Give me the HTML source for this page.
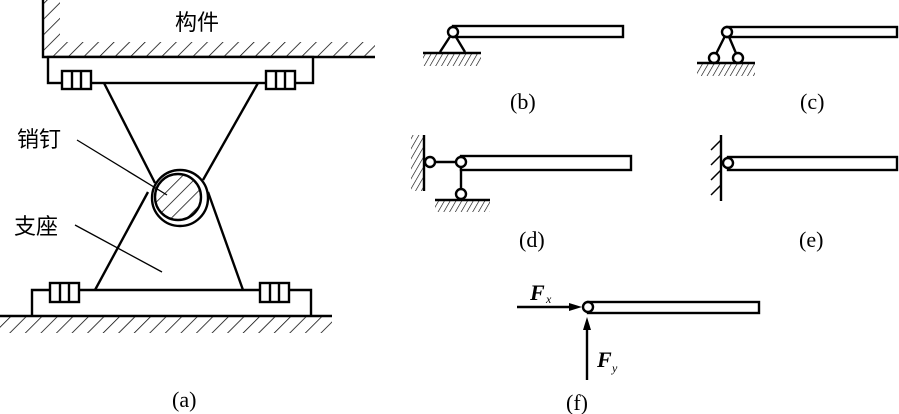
<!DOCTYPE html>
<html><head><meta charset="utf-8"><style>
html,body{margin:0;padding:0;background:#fff;}
svg{display:block;}
text{font-family:"Liberation Serif",serif;font-size:22px;fill:#000;}
.cn{font-family:"Liberation Sans","Noto Sans CJK SC",sans-serif;font-size:22px;}
.sub{font-size:12px;font-style:italic;}
</style></head><body>
<svg width="899" height="414" viewBox="0 0 899 414" xmlns="http://www.w3.org/2000/svg">
<defs>
<pattern id="h" width="11" height="11" patternUnits="userSpaceOnUse" patternTransform="rotate(45)">
<line x1="0" y1="0" x2="0" y2="11" stroke="#000" stroke-width="1.5"/></pattern>
<pattern id="hs" width="5" height="5" patternUnits="userSpaceOnUse" patternTransform="rotate(30)">
<line x1="0" y1="0" x2="0" y2="5" stroke="#000" stroke-width="1.2"/></pattern>
<clipPath id="cc"><circle cx="178" cy="198" r="23"/></clipPath>
</defs>
<g stroke="#000" fill="none" stroke-width="2.4">
<path d="M43,0 V57 H375"/>
<polygon points="43,0 60,0 60,42 375,42 375,57 43,57" fill="url(#h)" stroke="none"/>
<rect x="48" y="57" width="265" height="26" fill="#fff"/>
<rect x="62" y="71" width="29" height="18" fill="#fff"/>
<line x1="72" y1="71" x2="72" y2="89"/><line x1="81" y1="71" x2="81" y2="89"/>
<rect x="266" y="71" width="29" height="18" fill="#fff"/>
<line x1="276" y1="71" x2="276" y2="89"/><line x1="285" y1="71" x2="285" y2="89"/>
<line x1="104" y1="83" x2="155" y2="183"/>
<line x1="258" y1="83" x2="203" y2="180"/>
<line x1="148" y1="192" x2="95" y2="290"/>
<line x1="208" y1="192" x2="243" y2="290"/>
<circle cx="180" cy="198" r="28" fill="#fff"/>
<circle cx="178" cy="197" r="23" fill="#fff"/>
<rect x="150" y="170" width="60" height="60" fill="url(#h)" stroke="none" clip-path="url(#cc)"/>
<line x1="77" y1="140" x2="167" y2="195" stroke-width="1.3"/>
<line x1="75" y1="225" x2="162" y2="272" stroke-width="1.3"/>
<path d="M32,315 V290 H311 V315"/>
<rect x="50" y="283" width="29" height="19" fill="#fff"/>
<line x1="60" y1="283" x2="60" y2="302"/><line x1="69" y1="283" x2="69" y2="302"/>
<rect x="260" y="283" width="29" height="19" fill="#fff"/>
<line x1="270" y1="283" x2="270" y2="302"/><line x1="279" y1="283" x2="279" y2="302"/>
<line x1="0" y1="316" x2="332" y2="316"/>
<rect x="0" y="317" width="332" height="16" fill="url(#h)" stroke="none"/>

<rect x="453" y="26" width="170" height="11" fill="#fff"/>
<path d="M440,52 L453,32 L465,52"/>
<circle cx="453" cy="32" r="5" fill="#fff"/>
<line x1="423" y1="53" x2="481" y2="53"/>
<rect x="423" y="54" width="58" height="12" fill="url(#hs)" stroke="none"/>
<rect x="727" y="27" width="170" height="10" fill="#fff"/>
<path d="M714,58 L727,32 L738,58"/>
<circle cx="727" cy="32" r="5" fill="#fff"/>
<circle cx="714" cy="58" r="5" fill="#fff"/>
<circle cx="738" cy="58" r="5" fill="#fff"/>
<line x1="697" y1="63" x2="755" y2="63"/>
<rect x="697" y="64" width="58" height="12" fill="url(#hs)" stroke="none"/>
<line x1="424" y1="135" x2="424" y2="191"/>
<rect x="411" y="135" width="12" height="56" fill="url(#hs)" stroke="none"/>
<line x1="430" y1="162" x2="461" y2="162"/>
<line x1="461" y1="162" x2="461" y2="193"/>
<rect x="461" y="156" width="170" height="14" fill="#fff"/>
<circle cx="430" cy="162" r="5" fill="#fff"/>
<circle cx="461" cy="162" r="5" fill="#fff"/>
<circle cx="461" cy="194" r="5" fill="#fff"/>
<line x1="435" y1="200" x2="490" y2="200"/>
<rect x="435" y="201" width="55" height="11" fill="url(#hs)" stroke="none"/>
<line x1="721" y1="135" x2="721" y2="201"/>
<line x1="721" y1="140" x2="711" y2="150" stroke-width="1.5"/>
<line x1="721" y1="155" x2="711" y2="165" stroke-width="1.5"/>
<line x1="721" y1="170" x2="711" y2="180" stroke-width="1.5"/>
<line x1="721" y1="185" x2="711" y2="195" stroke-width="1.5"/>
<rect x="728" y="157" width="169" height="13" fill="#fff"/>
<circle cx="728" cy="163" r="5" fill="#fff"/>
<rect x="588" y="302" width="171" height="11" fill="#fff"/>
<circle cx="588" cy="307" r="5" fill="#fff"/>
<line x1="517" y1="307" x2="574" y2="307"/>
<line x1="587" y1="380" x2="587" y2="326"/>
</g>
<polygon points="582,307 569,303 569,311" fill="#000"/>
<polygon points="587,317 583,330 591,330" fill="#000"/>

<text class="cn" x="175" y="30">构件</text>
<text class="cn" x="17" y="147">销钉</text>
<text class="cn" x="14" y="234">支座</text>
<text x="172" y="407">(a)</text>
<text x="510" y="109">(b)</text>
<text x="800" y="109">(c)</text>
<text x="519" y="247">(d)</text>
<text x="799" y="247">(e)</text>
<text x="566" y="410">(f)</text>
<text x="530" y="300" font-weight="bold" font-style="italic">F</text><text x="546" y="303" class="sub">x</text>
<text x="597" y="367" font-weight="bold" font-style="italic">F</text><text x="612" y="372" class="sub">y</text>
</svg>
</body></html>
